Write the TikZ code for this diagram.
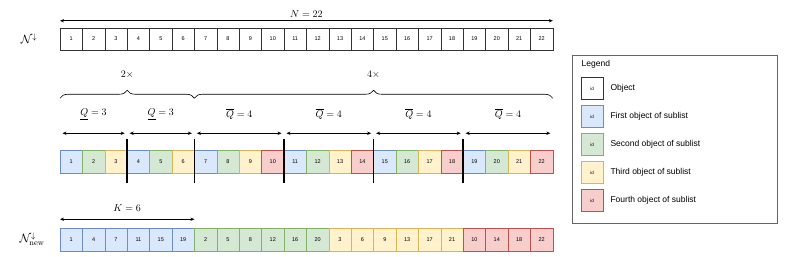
\documentclass[tikz,border=0pt]{standalone}
\usepackage{amsmath,amssymb}
\usepackage{fontspec}
\newfontfamily\lsans{Liberation Sans}
\usetikzlibrary{arrows.meta,positioning,calc,decorations.pathreplacing}
\definecolor{bfill}{HTML}{DAE8FC}\definecolor{bdraw}{HTML}{6C8EBF}
\definecolor{gfill}{HTML}{D5E8D4}\definecolor{gdraw}{HTML}{82B366}
\definecolor{yfill}{HTML}{FFF2CC}\definecolor{ydraw}{HTML}{D6B656}
\definecolor{rfill}{HTML}{F8CECC}\definecolor{rdraw}{HTML}{B85450}
\begin{document}
\begin{tikzpicture}[x=1pt,y={(0pt,-1pt)},>={Stealth[length=4pt,width=3.4pt]},
  cell/.style={draw,minimum width=22.4pt,minimum height=22.5pt,inner sep=0pt,outer sep=0pt,line width=0.5pt,font=\lsans\fontsize{5.5}{6}\selectfont},
  cw/.style={cell,draw=black!80,fill=white},
  cb/.style={cell,draw=bdraw,fill=bfill},
  cg/.style={cell,draw=gdraw,fill=gfill},
  cy/.style={cell,draw=ydraw,fill=yfill},
  cr/.style={cell,draw=rdraw,fill=rfill},
  dim/.style={<->,line width=0.6pt},
  sep/.style={line width=1.6pt},
  brc/.style={decorate,decoration={brace,amplitude=8pt},line width=0.6pt},
  legfont/.style={font=\lsans\fontsize{8.5}{10}\selectfont}]
  \useasboundingbox (0,0) rectangle (793,257);
  % input list
  \node[font=\large] (nin) at (29,39) {$\mathcal{N}^{\downarrow}$};
  \foreach \i in {1,...,22}
    \node[cw] (a\i) at ({48.8+22.4*\i},39) {\i};
  \draw[dim] ([yshift=7pt]a1.north west) -- ([yshift=7pt]a22.north east) node[midway,above]{$N=22$};
  % sublists
  \foreach \c [count=\i] in {cb,cg,cy,cb,cg,cy,cb,cg,cy,cr,cb,cg,cy,cr,cb,cg,cy,cr,cb,cg,cy,cr}
    \node[\c] (m\i) at ({48.8+22.4*\i},161.5) {\i};
  \foreach \f/\l/\q in {1/3/{\underline{Q}=3},4/6/{\underline{Q}=3},7/10/{\overline{Q}=4},11/14/{\overline{Q}=4},15/18/{\overline{Q}=4},19/22/{\overline{Q}=4}}
    \draw[dim] ([shift={(2.5pt,17pt)}]m\f.north west) -- ([shift={(-2.5pt,17pt)}]m\l.north east) node[midway,above=10pt]{$\q$};
  \foreach \l in {3,6,10,14,18}
    \draw[sep] ([yshift=11pt]m\l.north east) -- ([yshift=-10pt]m\l.south east);
  \draw[brc] ([yshift=52pt]m1.north west) -- ([yshift=52pt]m6.north east) node[midway,above=16pt]{$2\times$};
  \draw[brc] ([yshift=52pt]m7.north west) -- ([yshift=52pt]m22.north east) node[midway,above=16pt]{$4\times$};
  % output list
  \node[font=\large] (nout) at (32,239.5) {$\mathcal{N}^{\downarrow}_{\mathrm{new}}$};
  \foreach \v/\c [count=\i] in {1/cb,4/cb,7/cb,11/cb,15/cb,19/cb,2/cg,5/cg,8/cg,12/cg,16/cg,20/cg,3/cy,6/cy,9/cy,13/cy,17/cy,21/cy,10/cr,14/cr,18/cr,22/cr}
    \node[\c] (b\i) at ({48.8+22.4*\i},239.5) {\v};
  \draw[dim] ([yshift=9pt]b1.north west) -- ([yshift=9pt]b6.north east) node[midway,above=4pt]{$K=6$};
  % legend
  \node[draw=black!60,line width=0.7pt,minimum width=205pt,minimum height=168pt,inner sep=0pt] (leg) at (674.5,139) {};
  \node[anchor=north west,legfont] (legt) at ([shift={(6.5pt,-2pt)}]leg.north west) {Legend};
  \foreach \c/\t [count=\i] in {cw/Object,cb/First object of sublist,cg/Second object of sublist,cy/Third object of sublist,cr/Fourth object of sublist}{
    \node[\c,minimum width=22pt,minimum height=22pt,font=\lsans\fontsize{4.5}{5}\selectfont] (k\i) at (592,{60.5+28*\i}) {id};
    \node[right=4pt of k\i,legfont] (kt\i) {\t};}
\end{tikzpicture}
\end{document}
